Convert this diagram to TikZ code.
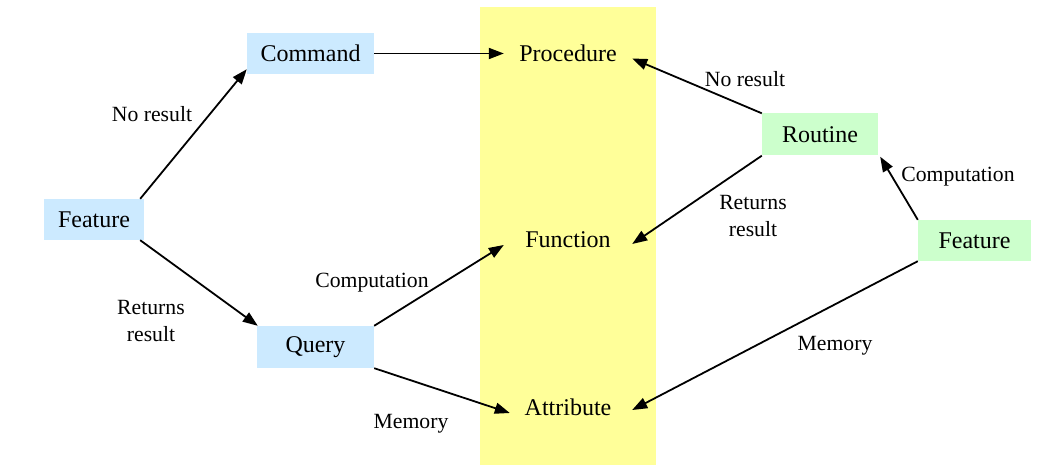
\documentclass[tikz,border=0pt]{standalone}
\usepackage{fontspec}
\setmainfont{Liberation Serif}
\newfontfamily\diagfont{Liberation Serif}
\usetikzlibrary{arrows.meta}
\definecolor{boxblue}{RGB}{204,234,255}
\definecolor{boxgreen}{RGB}{204,255,204}
\definecolor{bandyellow}{RGB}{255,255,153}
\begin{document}
\begin{tikzpicture}[x=1pt,y=-1pt,
  bluebox/.style={fill=boxblue,inner sep=0pt,font=\diagfont\fontsize{24}{27}\selectfont},
  greenbox/.style={fill=boxgreen,inner sep=0pt,font=\diagfont\fontsize{24}{27}\selectfont},
  kind/.style={inner sep=0pt,minimum width=128pt,minimum height=30pt,font=\diagfont\fontsize{24}{27}\selectfont},
  lbl/.style={inner sep=0pt,align=center,font=\diagfont\fontsize{21.7}{26.5}\selectfont},
  conn/.style={-{Triangle[length=15pt,width=11pt]},line width=1.8pt}]
\useasboundingbox (0,0) rectangle (1063,476);
\fill[bandyellow] (480,7) rectangle (656,465);
% boxes
\node[bluebox,minimum width=100pt,minimum height=41pt] (featL) at (94,219.5) {Feature};
\node[bluebox,minimum width=127pt,minimum height=41pt] (cmd) at (310.5,53.5) {Command};
\node[bluebox,minimum width=117pt,minimum height=42pt] (qry) at (315.5,347) {Query};
\node[greenbox,minimum width=116pt,minimum height=42pt] (rout) at (820,134.5) {Routine};
\node[greenbox,minimum width=113pt,minimum height=41pt] (featR) at (974.5,240.5) {Feature};
% kinds in the band
\node[kind] (proc) at (568,53.5) {Procedure};
\node[kind] (func) at (568,240) {Function};
\node[kind] (attr) at (568,407) {Attribute};
% connectors
\draw[conn] ([xshift=-4pt]featL.north east) -- ([yshift=5pt]cmd.south west);
\draw[conn] ([xshift=-4pt]featL.south east) -- ([xshift=1pt]qry.north west);
\draw[conn] (cmd.east) -- (proc.west);
\draw[conn] (qry.north east) -- ([yshift=-5pt]func.west);
\draw[conn] (qry.south east) -- ([xshift=6pt,yshift=-6pt]attr.west);
\draw[conn] (rout.north west) -- ([yshift=-5pt]proc.east);
\draw[conn] (rout.south west) -- ([yshift=-4pt]func.east);
\draw[conn] (featR.north west) -- ([xshift=2pt,yshift=-1pt]rout.south east);
\draw[conn] (featR.south west) -- ([yshift=-3pt]attr.east);
% labels
\node[lbl] (l1) at (152,114) {No result};
\node[lbl] (l2) at (151,321) {Returns\\result};
\node[lbl] (l3) at (372,283) {Computation};
\node[lbl] (l4) at (411,424) {Memory};
\node[lbl] (l5) at (745,79) {No result};
\node[lbl] (l6) at (753,216) {Returns\\result};
\node[lbl] (l7) at (958,177) {Computation};
\node[lbl] (l8) at (835,346) {Memory};
\end{tikzpicture}
\end{document}
